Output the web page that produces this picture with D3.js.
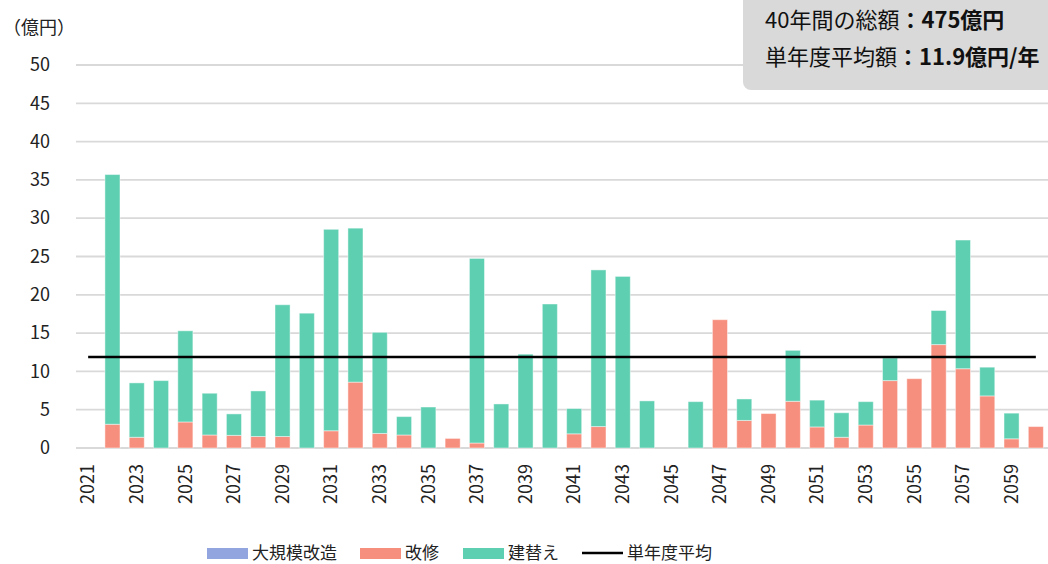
<!DOCTYPE html>
<html lang="ja">
<head>
<meta charset="utf-8">
<script src="https://cdn.jsdelivr.net/npm/d3@7"></script>
<style>
  body { margin: 0; background: #fff; }
  svg { display: block; font-family: "Noto Sans CJK JP", "Noto Sans", sans-serif; }
  .tick-label { font-size: 18px; fill: #222; }
  .legend-label { font-size: 17px; fill: #222; }
</style>
</head>
<body>
<svg id="chart"></svg>
<script>
// Years on the category axis
const years = [2021, 2022, 2023, 2024, 2025, 2026, 2027, 2028, 2029, 2030,
  2031, 2032, 2033, 2034, 2035, 2036, 2037, 2038, 2039, 2040,
  2041, 2042, 2043, 2044, 2045, 2046, 2047, 2048, 2049, 2050,
  2051, 2052, 2053, 2054, 2055, 2056, 2057, 2058, 2059, 2060];

// 大規模改造 (億円) - nothing in this period, legend only
const daikibo = [0, 0, 0, 0, 0, 0, 0, 0, 0, 0,
  0, 0, 0, 0, 0, 0, 0, 0, 0, 0,
  0, 0, 0, 0, 0, 0, 0, 0, 0, 0,
  0, 0, 0, 0, 0, 0, 0, 0, 0, 0];

// 改修 (億円)
const kaishu = [0, 3.1, 1.4, 0, 3.4, 1.7, 1.65, 1.5, 1.5, 0,
  2.25, 8.6, 1.9, 1.7, 0, 1.25, 0.65, 0, 0, 0,
  1.85, 2.8, 0, 0, 0, 0, 16.75, 3.6, 4.5, 6.1,
  2.75, 1.4, 3.0, 8.8, 9.05, 13.5, 10.35, 6.8, 1.2, 2.8];

// 建替え (億円)
const tatekae = [0, 32.6, 7.1, 8.8, 11.9, 5.45, 2.8, 5.95, 17.2, 17.6,
  26.3, 20.1, 13.2, 2.4, 5.35, 0, 24.1, 5.75, 12.25, 18.8,
  3.3, 20.45, 22.4, 6.15, 0, 6.05, 0, 2.8, 0, 6.65,
  3.5, 3.2, 3.05, 2.95, 0, 4.45, 16.8, 3.75, 3.35, 0];

// 単年度平均 = 475 / 40
const yearlyAverage = 11.875;

const yTicks = [0, 5, 10, 15, 20, 25, 30, 35, 40, 45, 50];
const xTickYears = years.filter((d, i) => i % 2 === 0);

const seriesKeys = ['daikibo', 'kaishu', 'tatekae'];
const seriesNames = ['大規模改造', '改修', '建替え'];
const seriesColors = ['#93A5DE', '#F78F7E', '#5ECFB1'];

const summaryLines = [
  { label: '40年間の総額', value: '：475億円' },
  { label: '単年度平均額', value: '：11.9億円/年' }
];

class StackedBarChart {

  constructor(_config, _data) {
    this.config = {
      parentElement: _config.parentElement,
      containerWidth: _config.containerWidth || 1048,
      containerHeight: _config.containerHeight || 564,
      margin: _config.margin || {top: 65, right: 0, bottom: 116, left: 76}
    };
    this.data = _data;
    this.initVis();
  }

  initVis() {
    let vis = this;

    vis.width = vis.config.containerWidth - vis.config.margin.left - vis.config.margin.right;
    vis.height = vis.config.containerHeight - vis.config.margin.top - vis.config.margin.bottom;

    vis.svg = d3.select(vis.config.parentElement)
      .attr('width', vis.config.containerWidth)
      .attr('height', vis.config.containerHeight);

    vis.chart = vis.svg.append('g')
      .attr('transform', `translate(${vis.config.margin.left},${vis.config.margin.top})`);

    // Excel-like category spacing: half padding at the ends
    vis.xScale = d3.scaleBand()
      .domain(years)
      .range([0, vis.width])
      .paddingInner(0.38)
      .paddingOuter(0.19);

    vis.yScale = d3.scaleLinear()
      .domain([0, 50])
      .range([vis.height, 0]);

    // gridlines
    vis.chart.append('g')
      .attr('class', 'grid')
      .selectAll('line')
      .data(yTicks)
      .join('line')
      .attr('x1', 0)
      .attr('x2', vis.width)
      .attr('y1', d => vis.yScale(d))
      .attr('y2', d => vis.yScale(d))
      .attr('stroke', '#D9D9D9')
      .attr('stroke-width', 1.8);

    // y axis labels
    vis.yAxisG = vis.chart.append('g')
      .call(d3.axisLeft(vis.yScale).tickValues(yTicks).tickSize(0).tickPadding(26))
      .attr('font-family', null)
      .attr('font-size', null);
    vis.yAxisG.select('.domain').remove();
    vis.yAxisG.selectAll('text')
      .attr('class', 'tick-label')
      .attr('fill', null)
      .attr('x', -26);

    vis.svg.append('text')
      .attr('x', 3)
      .attr('y', 34)
      .attr('font-size', 18)
      .attr('fill', '#222')
      .text('（億円）');

    // x axis labels, every other year, rotated
    vis.xAxisG = vis.chart.append('g')
      .attr('transform', `translate(0,${vis.height})`)
      .call(d3.axisBottom(vis.xScale).tickValues(xTickYears).tickSize(0).tickPadding(0))
      .attr('font-family', null)
      .attr('font-size', null);
    vis.xAxisG.select('.domain').remove();
    vis.xAxisG.selectAll('text')
      .attr('class', 'tick-label')
      .attr('fill', null)
      .attr('transform', 'rotate(-90)')
      .attr('x', -16)
      .attr('y', 0)
      .attr('dy', '0.35em')
      .style('text-anchor', 'end');

    vis.barsG = vis.chart.append('g');
    vis.lineG = vis.chart.append('g');

    vis.drawSummaryBox();
    vis.drawLegend();
  }

  updateVis() {
    let vis = this;

    const stacked = d3.stack().keys(seriesKeys)(vis.data);

    vis.barsG.selectAll('.series')
      .data(stacked)
      .join('g')
      .attr('class', 'series')
      .attr('fill', (d, i) => seriesColors[i])
      .selectAll('rect')
      .data(d => d.filter(s => s[1] - s[0] > 0))
      .join('rect')
      .attr('x', d => vis.xScale(d.data.year))
      .attr('y', d => vis.yScale(d[1]))
      .attr('width', vis.xScale.bandwidth())
      .attr('height', d => vis.yScale(d[0]) - vis.yScale(d[1]))
      .attr('stroke', '#ffffff')
      .attr('stroke-opacity', 0.45)
      .attr('stroke-width', 1);

    // average line from first to last category centre
    const half = vis.xScale.bandwidth() / 2;
    const line = d3.line()
      .x(d => vis.xScale(d) + half)
      .y(() => vis.yScale(yearlyAverage));

    vis.lineG.append('path')
      .datum([years[0], years[years.length - 1]])
      .attr('d', line)
      .attr('fill', 'none')
      .attr('stroke', '#000')
      .attr('stroke-width', 2.6);
  }

  drawSummaryBox() {
    let vis = this;
    const box = vis.svg.append('g');

    box.append('rect')
      .attr('x', 743)
      .attr('y', -12)
      .attr('width', 320)
      .attr('height', 102)
      .attr('rx', 8)
      .attr('fill', '#D9D9D9');

    box.selectAll('text')
      .data(summaryLines)
      .join('text')
      .attr('x', 765)
      .attr('y', (d, i) => 28 + i * 37)
      .attr('font-size', 22)
      .attr('fill', '#111')
      .each(function (d) {
        const t = d3.select(this);
        t.append('tspan').text(d.label);
        t.append('tspan').attr('font-weight', 'bold').text(d.value);
      });
  }

  drawLegend() {
    let vis = this;
    const items = seriesNames.map((name, i) => ({name, color: seriesColors[i], type: 'rect'}))
      .concat([{name: '単年度平均', color: '#000', type: 'line'}]);
    const itemX = [207, 360, 463, 582];

    const legend = vis.svg.append('g');
    const g = legend.selectAll('g')
      .data(items)
      .join('g')
      .attr('transform', (d, i) => `translate(${itemX[i]},553)`);

    g.filter(d => d.type === 'rect').append('rect')
      .attr('x', 0)
      .attr('y', -5)
      .attr('width', 41)
      .attr('height', 11)
      .attr('fill', d => d.color);

    g.filter(d => d.type === 'line').append('line')
      .attr('x1', 0)
      .attr('x2', 41)
      .attr('y1', 0)
      .attr('y2', 0)
      .attr('stroke', '#000')
      .attr('stroke-width', 2.6);

    g.append('text')
      .attr('class', 'legend-label')
      .attr('x', 45)
      .attr('y', 0)
      .attr('dy', '0.35em')
      .text(d => d.name);
  }
}

const table = years.map((year, i) => ({
  year: year,
  daikibo: daikibo[i],
  kaishu: kaishu[i],
  tatekae: tatekae[i]
}));

const chart = new StackedBarChart({parentElement: '#chart'}, table);
chart.updateVis();
</script>
</body>
</html>
